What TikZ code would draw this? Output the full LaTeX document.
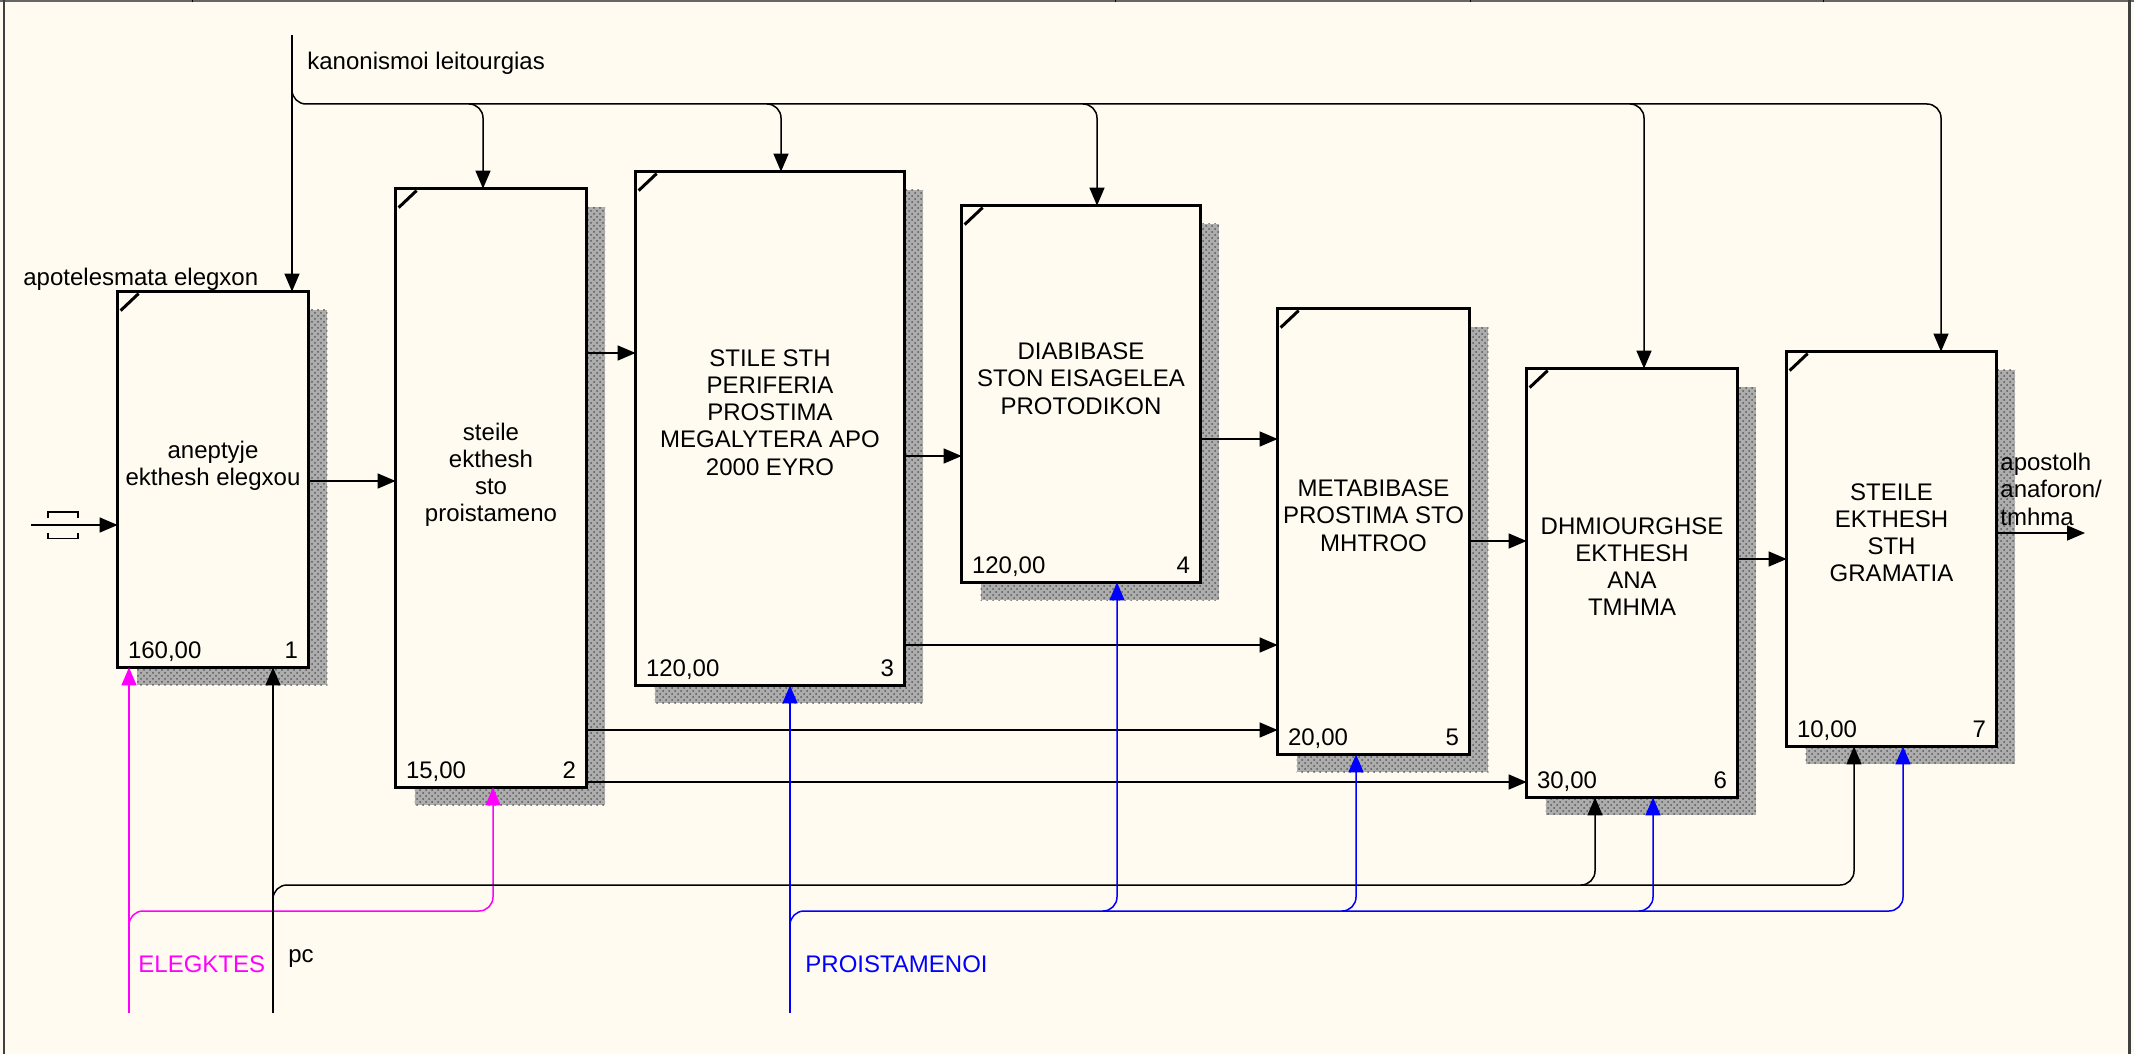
\documentclass[tikz,border=0pt]{standalone}
\usepackage{fontspec}
\setmainfont{Liberation Sans}
\usetikzlibrary{arrows.meta,patterns,calc}
\definecolor{bgc}{RGB}{255,251,240}
\definecolor{mag}{RGB}{255,0,255}
\definecolor{blu}{RGB}{0,0,255}
\newcommand\shadowof[1]{%
  \fill[black!32] ([shift={(19,18)}]#1.north west) rectangle ([shift={(19,18)}]#1.south east);
  \fill[pattern=crosshatch dots, pattern color=black!65] ([shift={(19,18)}]#1.north west) rectangle ([shift={(19,18)}]#1.south east);}
\newcommand\cornermark[1]{\draw[line width=1.5pt] ([shift={(3,19)}]#1.north west) -- ([shift={(21,2)}]#1.north west);}
\newcommand\boxlines[4]{\foreach \t [count=\i] in {#4}{\node[txt,anchor=base] (#1-\i) at ({#2},{#3+27.3*(\i-1)}) {\t};}}
\newcommand\boxnums[3]{%
  \node[txt,anchor=base west] (#1-cost) at ($(#1.south west)+(10,-9)$) {#2};
  \node[txt,anchor=base east] (#1-num) at ($(#1.south east)+(-10,-9)$) {#3};}
\newcommand\hconn[3]{\coordinate (y#1#2) at (0,#3); \draw[conn] (#1.east |- y#1#2) -- (#2.west |- y#1#2);}
\begin{document}
\begin{tikzpicture}[x=0.5pt,y=-0.5pt,
  conn/.style={draw, line width=0.75pt, -{Triangle[length=9pt,width=7.5pt]}},
  connm/.style={conn, color=mag},
  connb/.style={conn, color=blu},
  txt/.style={inner sep=0pt, font=\fontsize{12pt}{14pt}\selectfont}]
\useasboundingbox (0,0) rectangle (2134,1054);
\fill[bgc] (0,0) rectangle (2134,1054);
% frame
\fill[black!60] (0,0) rectangle (2134,2.5);
\foreach \tx in {192,1115,1470,1823} \draw[black, line width=0.5pt] (\tx,0) -- (\tx,2.5);
\draw[black!75, line width=1pt] (4,0) -- (4,1054);
\draw[black!75, line width=1.5pt] (2129,0) -- (2129,1054);
% boxes (geometry only)
\path (213,479.5)  node[inner sep=0pt, minimum width=95pt,  minimum height=187.5pt] (b1) {};
\path (491,488)    node[inner sep=0pt, minimum width=95pt,  minimum height=299pt]   (b2) {};
\path (770,428.5)  node[inner sep=0pt, minimum width=134pt, minimum height=256.5pt] (b3) {};
\path (1081,394)   node[inner sep=0pt, minimum width=119pt, minimum height=188pt]   (b4) {};
\path (1373.5,531.5) node[inner sep=0pt, minimum width=95.5pt, minimum height=222.5pt] (b5) {};
\path (1632,583)   node[inner sep=0pt, minimum width=105pt, minimum height=214pt]   (b6) {};
\path (1891.5,549) node[inner sep=0pt, minimum width=104.5pt, minimum height=197pt] (b7) {};
\foreach \b in {b1,b2,b3,b4,b5,b6,b7} {\shadowof{\b}}
\foreach \b in {b1,b2,b3,b4,b5,b6,b7} {
  \fill[bgc] (\b.north west) rectangle (\b.south east);
  \draw[line width=1.5pt] (\b.north west) rectangle (\b.south east);
  \cornermark{\b}}
% box texts
\boxlines{t1}{213}{458}{aneptyje,ekthesh elegxou}
\boxlines{t2}{491}{440}{steile,ekthesh,sto,proistameno}
\boxlines{t3}{770}{366}{STILE STH,PERIFERIA,PROSTIMA,MEGALYTERA APO,2000 EYRO}
\boxlines{t4}{1081}{359.5}{DIABIBASE,STON EISAGELEA,PROTODIKON}
\boxlines{t5}{1373.5}{496.5}{METABIBASE,PROSTIMA STO,MHTROO}
\boxlines{t6}{1632}{534}{DHMIOURGHSE,EKTHESH,ANA,TMHMA}
\boxlines{t7}{1891.5}{500}{STEILE,EKTHESH,STH,GRAMATIA}
\boxnums{b1}{160,00}{1}
\boxnums{b2}{15,00}{2}
\boxnums{b3}{120,00}{3}
\boxnums{b4}{120,00}{4}
\boxnums{b5}{20,00}{5}
\boxnums{b6}{30,00}{6}
\boxnums{b7}{10,00}{7}
% input with tunnel
\coordinate (in0) at (31,525);
\draw[conn] (in0) -- (in0 -| b1.west);
\draw[line width=0.75pt] (48,518) -- (48,512) -- (78,512) -- (78,518);
\draw[line width=0.75pt] (48,532.5) -- (48,538.5) -- (78,538.5) -- (78,532.5);
% horizontal flows
\hconn{b1}{b2}{481}
\hconn{b2}{b3}{353}
\hconn{b2}{b5}{730}
\hconn{b2}{b6}{782}
\hconn{b3}{b4}{456}
\hconn{b3}{b5}{645}
\hconn{b4}{b5}{439}
\hconn{b5}{b6}{541}
\hconn{b6}{b7}{559}
\coordinate (out) at (2085,533);
\draw[conn] (b7.east |- out) -- (out);
% controls
\coordinate (ktop) at (292,35);
\draw[conn] (ktop) -- (ktop |- b1.north);
\coordinate (kbr) at (292,94);
\coordinate (k7) at (1941,104);
\draw[conn, rounded corners=7] (kbr) |- (k7) -- (k7 |- b7.north);
\foreach \bx/\xx in {b2/483, b3/781, b4/1097, b6/1644} {
  \coordinate (k\bx) at (\xx,104);
  \draw[conn, rounded corners=7] ([xshift=-7pt]k\bx) -| (k\bx |- \bx.north);}
% mechanisms: ELEGKTES
\coordinate (mE) at (129,1013);
\draw[connm] (mE) -- (mE |- b1.south);
\coordinate (mEs) at (129,925);
\coordinate (mEb) at (493,911);
\draw[connm, rounded corners=7] (mEs) |- (mEb) -- (mEb |- b2.south);
% pc
\coordinate (pc) at (273,1013);
\draw[conn] (pc) -- (pc |- b1.south);
\coordinate (pcs) at (273,899);
\coordinate (pc7) at (1854,885);
\draw[conn, rounded corners=7] (pcs) |- (pc7) -- (pc7 |- b7.south);
\coordinate (pc6) at (1595,885);
\draw[conn, rounded corners=7] ([xshift=-7pt]pc6) -| (pc6 |- b6.south);
% PROISTAMENOI
\coordinate (pr) at (790,1013);
\draw[connb] (pr) -- (pr |- b3.south);
\coordinate (prs) at (790,925);
\coordinate (pr7) at (1903,911);
\draw[connb, rounded corners=7] (prs) |- (pr7) -- (pr7 |- b7.south);
\foreach \bx/\xx in {b4/1117, b5/1356, b6/1653} {
  \coordinate (p\bx) at (\xx,911);
  \draw[connb, rounded corners=7] ([xshift=-7pt]p\bx) -| (p\bx |- \bx.south);}
% labels
\node[txt, anchor=base west] (lk) at (307,70) {kanonismoi leitourgias};
\node[txt, anchor=base west] (la) at (23,285) {apotelesmata elegxon};
\node[txt, anchor=base west, text=mag] (lE) at (138,972) {ELEGKTES};
\node[txt, anchor=base west] (lpc) at (288,962) {pc};
\node[txt, anchor=base west, text=blu] (lP) at (805,972) {PROISTAMENOI};
\foreach \t [count=\i] in {apostolh,anaforon/,tmhma}
  \node[txt, anchor=base west] (lo-\i) at (2000,{470+27.5*(\i-1)}) {\t};
\end{tikzpicture}
\end{document}
